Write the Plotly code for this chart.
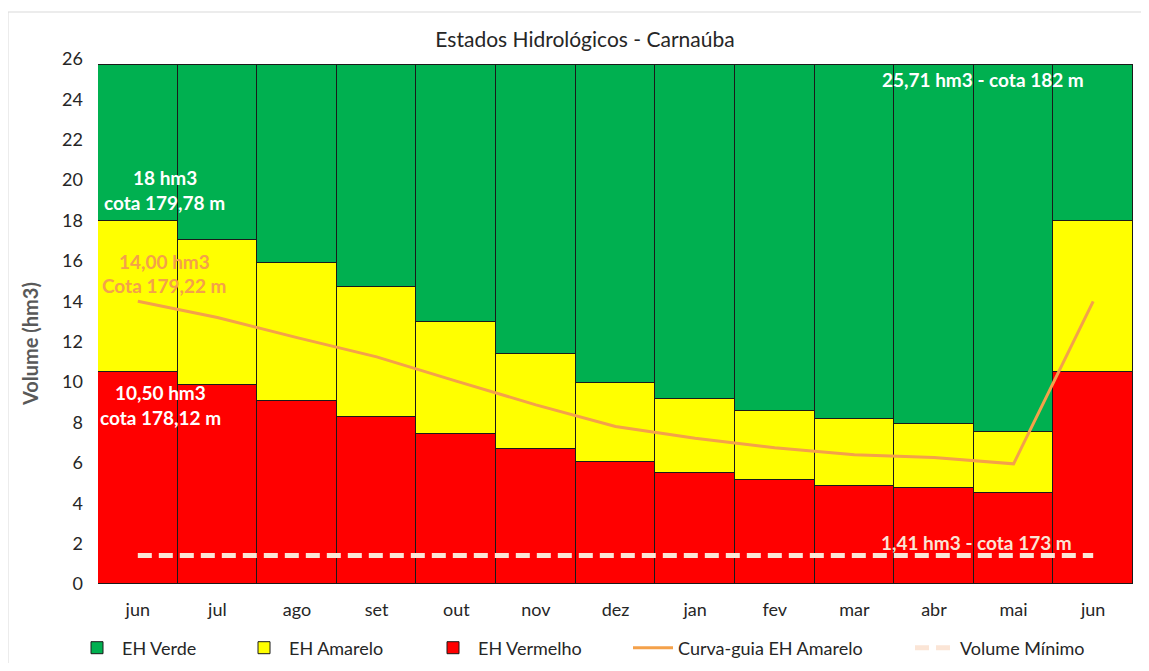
import plotly.graph_objects as go

months = ["jun", "jul", "ago", "set", "out", "nov", "dez", "jan", "fev", "mar", "abr", "mai", "jun"]
red_top = [10.50, 9.85, 9.08, 8.29, 7.44, 6.69, 6.03, 5.50, 5.13, 4.83, 4.77, 4.53, 10.50]
yellow_top = [18.00, 17.03, 15.88, 14.70, 13.00, 11.39, 9.93, 9.14, 8.58, 8.16, 7.92, 7.51, 18.00]
green_top = [25.71, 25.71, 25.71, 25.71, 25.71, 25.71, 25.71, 25.71, 25.71, 25.71, 25.71, 25.71, 25.71]
curva_guia = [14.00, 13.20, 12.20, 11.25, 10.05, 8.87, 7.80, 7.22, 6.75, 6.40, 6.27, 5.95, 14.00]
volume_minimo = [1.41, 1.41, 1.41, 1.41, 1.41, 1.41, 1.41, 1.41, 1.41, 1.41, 1.41, 1.41, 1.41]
y_ticks = [0, 2, 4, 6, 8, 10, 12, 14, 16, 18, 20, 22, 24, 26]

xs = list(range(len(months)))
red_h = red_top
yellow_h = [y - r for y, r in zip(yellow_top, red_top)]
green_h = [g - y for g, y in zip(green_top, yellow_top)]

FONT = "Lato"
GREEN = "#00B050"
YELLOW = "#FFFF00"
RED = "#FF0000"
ORANGE = "#F4A14A"
PEACH = "#FBE5D6"

fig = go.Figure()
edge = dict(color="#1a1a1a", width=1)
fig.add_trace(go.Bar(x=xs, y=red_h, name="EH Vermelho", marker=dict(color=RED, line=edge),
                     legend="legend3", width=1))
fig.add_trace(go.Bar(x=xs, y=yellow_h, name="EH Amarelo", marker=dict(color=YELLOW, line=edge),
                     legend="legend2", width=1))
fig.add_trace(go.Bar(x=xs, y=green_h, name="EH Verde", marker=dict(color=GREEN, line=edge),
                     legend="legend", width=1))
fig.add_trace(go.Scatter(x=xs, y=curva_guia, mode="lines", name="Curva-guia EH Amarelo",
                         line=dict(color=ORANGE, width=3), legend="legend4"))
fig.add_trace(go.Scatter(x=xs, y=volume_minimo, mode="lines", name="Volume Mínimo",
                         line=dict(color=PEACH, width=5, dash="14px,7px"), legend="legend5"))

# the page body has an 8px margin: draw the figure 16px smaller and shifted by 8px
OFF = 8
W, H = 1149 - 2 * OFF, 671 - 2 * OFF
PL, PR, PT, PB = 98, 1133, 59, 584  # plot area in reference pixels
L, R, T, B = PL - OFF, W - (PR - OFF), PT - OFF, H - (PB - OFF)
pw = PR - PL
ph = PB - PT

def px_x(p):
    return (p - PL) / pw

def px_y(p):
    return (PB - p) / ph

def leg(left_px):
    return dict(x=px_x(left_px), y=px_y(648), xanchor="left", yanchor="middle",
                orientation="h", font=dict(family=FONT, size=18, color="#262626"),
                bgcolor="rgba(0,0,0,0)", itemwidth=40)

annos = [
    dict(x=0.34, y=20.15, text="<b>18 hm3</b>", color="white"),
    dict(x=0.34, y=18.9, text="<b>cota 179,78 m</b>", color="white"),
    dict(x=0.34, y=15.98, text="<b>14,00 hm3</b>", color=ORANGE),
    dict(x=0.34, y=14.79, text="<b>Cota 179,22 m</b>", color=ORANGE),
    dict(x=0.29, y=9.48, text="<b>10,50 hm3</b>", color="white"),
    dict(x=0.29, y=8.24, text="<b>cota 178,12 m</b>", color="white"),
    dict(x=10.62, y=25.0, text="<b>25,71 hm3 - cota 182 m</b>", color="white"),
    dict(x=10.54, y=2.08, text="<b>1,41 hm3 - cota 173 m</b>", color=PEACH),
]
annotations = [dict(x=a["x"], y=a["y"], xref="x", yref="y", text=a["text"], showarrow=False,
                    font=dict(family=FONT, size=19, color=a["color"]), xanchor="center", yanchor="middle")
               for a in annos]
annotations.append(dict(x=px_x(30), y=px_y(344), xref="paper", yref="paper", text="<b>Volume (hm3)</b>",
                        textangle=-90, showarrow=False, font=dict(family=FONT, size=20, color="#595959"),
                        xanchor="center", yanchor="middle"))

fig.update_layout(
    width=W, height=H,
    margin=dict(l=L, r=R, t=T, b=B, autoexpand=False),
    paper_bgcolor="white", plot_bgcolor="white",
    barmode="stack", bargap=0,
    title=dict(text="Estados Hidrológicos - Carnaúba", x=(585 - OFF) / W, xanchor="center",
               y=1 - (40 - OFF) / H, yanchor="middle", font=dict(family=FONT, size=21, color="#262626")),
    xaxis=dict(range=[-0.5, 12.5], tickvals=xs, ticktext=months, showgrid=False, zeroline=False,
               showline=False, ticks="", ticklabelstandoff=13,
               tickfont=dict(family=FONT, size=18, color="#262626")),
    yaxis=dict(range=[0, 26], tickvals=y_ticks, showgrid=True, gridcolor="#D9D9D9", zeroline=False,
               showline=False, ticks="", ticklabelstandoff=14,
               tickfont=dict(family=FONT, size=18, color="#262626")),
    annotations=annotations,
    showlegend=True,
    legend=leg(122 - 50), legend2=leg(289 - 50), legend3=leg(478 - 50),
    legend4=leg(678 - 50), legend5=leg(960 - 50),
    shapes=[dict(type="rect", xref="paper", yref="paper", x0=px_x(8), x1=px_x(1170), y0=px_y(700), y1=px_y(12),
                 line=dict(color="#D9D9D9", width=1), fillcolor="rgba(0,0,0,0)", layer="below")],
)

fig.write_html("out.html")
